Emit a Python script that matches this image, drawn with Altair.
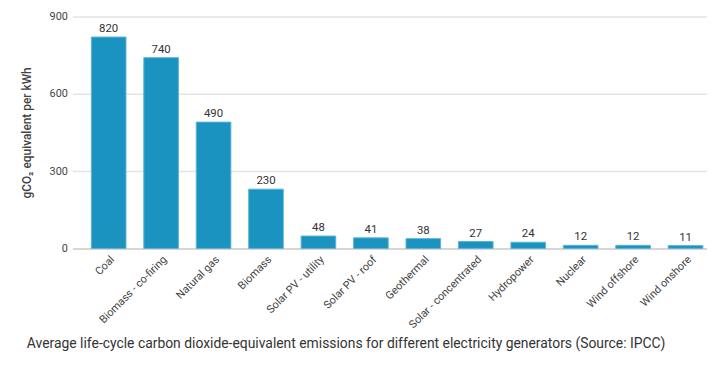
import altair as alt
import pandas as pd

categories = ["Coal", "Biomass - co-firing", "Natural gas", "Biomass", "Solar PV - utility",
              "Solar PV - roof", "Geothermal", "Solar - concentrated", "Hydropower", "Nuclear",
              "Wind offshore", "Wind onshore"]
values = [820, 740, 490, 230, 48, 41, 38, 27, 24, 12, 12, 11]
y_ticks = [0, 300, 600, 900]

df = pd.DataFrame({"source": categories, "value": values})

x = alt.X("source:N", sort=categories, title=None,
          scale=alt.Scale(paddingInner=0.34, paddingOuter=0.22, align=0.82, round=False),
          axis=alt.Axis(labelAngle=-45, labelFont="Roboto", labelFontSize=11, labelColor="#444",
                        ticks=False, domain=True, domainColor="#cfcfcf", domainWidth=1.5,
                        labelPadding=5))
y = alt.Y("value:Q", title="gCO₂ equivalent per kWh",
          scale=alt.Scale(domain=[0, 900], nice=False),
          axis=alt.Axis(values=y_ticks, labelFont="Roboto", labelFontSize=11, labelColor="#444",
                        ticks=False, domain=False, gridColor="#e4e4e4", gridWidth=1.5,
                        labelPadding=5, titleFont="Roboto", titleFontSize=12, titleFontWeight=500,
                        titleColor="#444", titlePadding=16))

bars = alt.Chart(df).mark_bar(color="#1b93c1", stroke="#5db3d6", strokeWidth=1).encode(x=x, y=y)
labels = alt.Chart(df).mark_text(baseline="bottom", dy=-3, font="Roboto", fontSize=11.5,
                                 color="#333").encode(x=alt.X("source:N", sort=categories),
                                                      y="value:Q", text="value:Q")

chart = (bars + labels).properties(
    width=640, height=234,
    autosize=alt.AutoSizeParams(type="none"),
    padding={"left": 65, "top": 7, "right": 0, "bottom": 108},
    title=alt.TitleParams("Average life-cycle carbon dioxide-equivalent emissions for different electricity generators (Source: IPCC)",
                          orient="bottom", anchor="start", frame="group", dx=-46, font="Roboto",
                          fontSize=14.0, fontWeight="normal", color="#333", offset=7),
).configure_view(stroke=None)

chart.save("out.html", embed_options={"renderer": "svg", "actions": False})
